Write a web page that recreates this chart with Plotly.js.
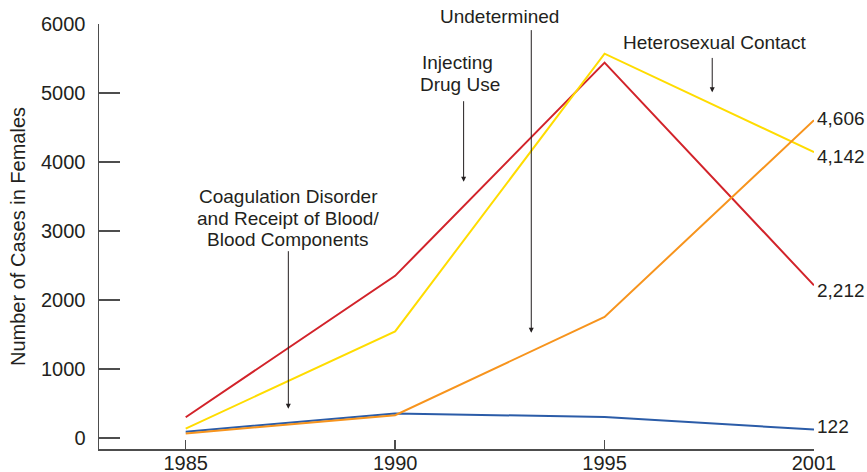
<!DOCTYPE html>
<html>
<head>
<meta charset="utf-8">
<script src="https://cdn.plot.ly/plotly-3.0.1.min.js"></script>
<style>html,body{margin:0;padding:0;background:#fff;}#chart{width:867px;height:472px;}</style>
</head>
<body>
<div id="chart"></div>
<script>
// ---- data ----
const years = ['1985', '1990', '1995', '2001'];
const coagulation = [90, 355, 304, 122];
const injectingDrugUse = [300, 2350, 5440, 2212];
const heterosexualContact = [135, 1545, 5570, 4142];
const undetermined = [65, 330, 1754, 4606];
const yTickVals = [0, 1000, 2000, 3000, 4000, 5000, 6000];

const textColor = '#231f20';
const axisColor = '#4d4d4d';
const fontFamily = '"Liberation Sans", Arial, Helvetica, sans-serif';
function fnt(size) { return {family: fontFamily, size: size || 19, color: textColor}; }

function line(y, color, name) {
  return {x: years, y: y, type: 'scatter', mode: 'lines', name: name,
          line: {color: color, width: 2}, hoverinfo: 'x+y', cliponaxis: false};
}

const traces = [
  line(coagulation, '#2b5ca8', 'Coagulation Disorder and Receipt of Blood/Blood Components'),
  line(injectingDrugUse, '#d2232a', 'Injecting Drug Use'),
  line(heterosexualContact, '#ffdc00', 'Heterosexual Contact'),
  line(undetermined, '#f7941d', 'Undetermined')
];

function txt(x, y, text, yref) {
  return {x: x, y: y, xref: 'x', yref: yref || 'y', text: text, showarrow: false,
          font: fnt(), xanchor: 'center', yanchor: 'middle'};
}
function arrow(x, yHead, yTail) {
  return {x: x, y: yHead, ax: x, ay: yTail, xref: 'x', yref: 'y', axref: 'x', ayref: 'y',
          text: '', showarrow: true, arrowhead: 2, arrowsize: 1, arrowwidth: 1,
          arrowcolor: textColor, standoff: 0, startstandoff: 0};
}

const annotations = [
  txt(0.49, 3500, 'Coagulation Disorder'),
  txt(0.49, 3185, 'and Receipt of Blood/'),
  txt(0.49, 2875, 'Blood Components'),
  arrow(0.49, 425, 2729),
  txt(1.30, 5435, 'Injecting'),
  txt(1.31, 5130, 'Drug Use'),
  arrow(1.327, 3714, 4903),
  txt(1.499, 1.018, 'Undetermined', 'paper'),
  arrow(1.65, 1526, 5933),
  txt(2.525, 5733, 'Heterosexual Contact'),
  arrow(2.514, 5009, 5530)
];

// end-of-line value labels (x given as category index of the last year)
const endSeries = [[undetermined, 2], [heterosexualContact, -4], [injectingDrugUse, -5], [coagulation, 3]];
endSeries.forEach(function (s) {
  const v = s[0][s[0].length - 1];
  annotations.push({x: years.length - 1, y: v, xref: 'x', yref: 'y',
    text: v.toLocaleString('en-US'), showarrow: false, font: fnt(),
    xanchor: 'left', yanchor: 'middle', xshift: 1, yshift: s[1]});
});

const layout = {
  width: 867, height: 472,
  margin: {l: 99, r: 53, t: 24, b: 23},
  paper_bgcolor: '#ffffff', plot_bgcolor: '#ffffff',
  showlegend: false,
  font: fnt(),
  xaxis: {
    type: 'category', categoryorder: 'array', categoryarray: years,
    range: [-0.414, 3], showgrid: false, zeroline: false,
    showline: true, linecolor: axisColor, linewidth: 1.5,
    ticks: 'inside', ticklen: 9, tickwidth: 1.5, tickcolor: axisColor,
    tickfont: fnt(20), automargin: false, fixedrange: true, ticklabelstandoff: -5
  },
  yaxis: {
    range: [-160, 6000], tickvals: yTickVals, showgrid: false, zeroline: false,
    showline: true, linecolor: axisColor, linewidth: 1.5,
    ticks: 'inside', ticklen: 21, tickwidth: 1.5, tickcolor: axisColor,
    tickfont: fnt(20), automargin: false, fixedrange: true, ticklabelstandoff: 8,
    title: {text: 'Number of Cases in Females', font: fnt(20), standoff: 10}
  },
  annotations: annotations
};

Plotly.newPlot('chart', traces, layout, {displayModeBar: false, staticPlot: true});
</script>
</body>
</html>
